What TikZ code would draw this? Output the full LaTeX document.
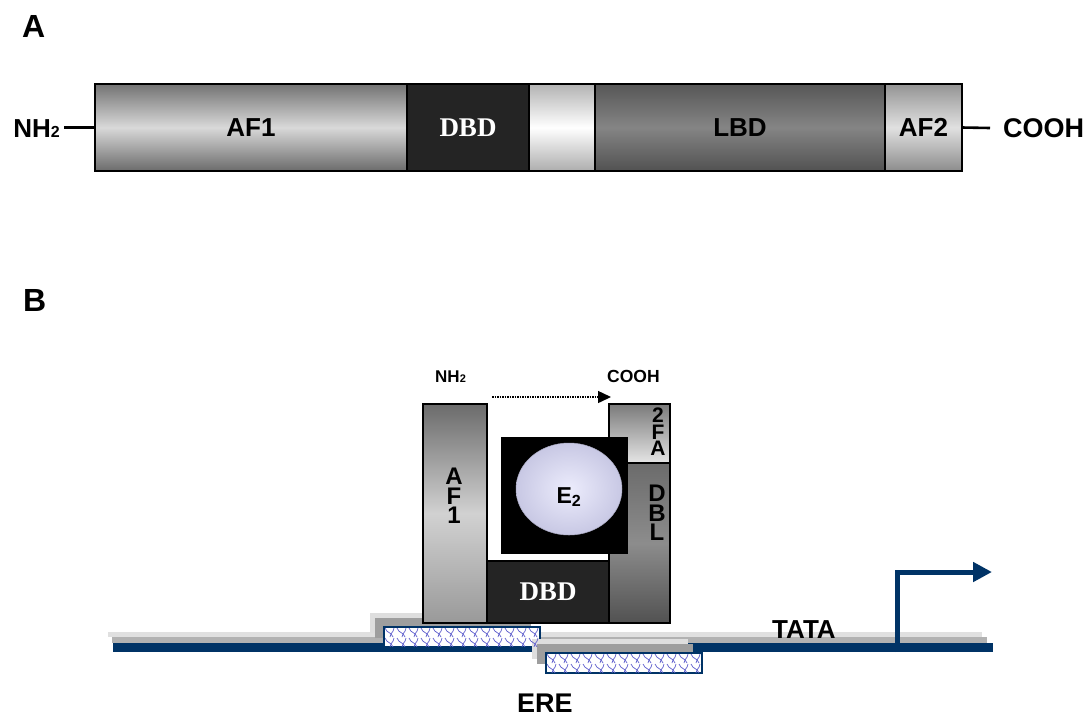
\documentclass[tikz,border=0pt]{standalone}
\usepackage{fontspec}
\setmainfont{Liberation Sans}
\newfontfamily\serifbf{Liberation Serif}
\usetikzlibrary{arrows.meta,positioning,calc,shadows,shapes.geometric}

\definecolor{dnablue}{RGB}{0,51,102}
\definecolor{erepen}{RGB}{95,95,205}
\definecolor{dbdfill}{RGB}{36,36,36}
\definecolor{ligand}{RGB}{236,236,252}
\definecolor{ligandrim}{RGB}{200,200,228}

\tikzset{
  dom/.style={draw=black, line width=1.4pt, anchor=north west, inner sep=0pt, outer sep=0pt},
  domlabel/.style={font=\bfseries\fontsize{26}{26}\selectfont},
  dbdlabel/.style={text=white, font=\serifbf\bfseries\fontsize{27}{27}\selectfont},
  stacked/.style={align=center, inner sep=0pt, font=\bfseries\fontsize{24}{19.5}\selectfont},
  bigtext/.style={inner sep=0pt, font=\bfseries\fontsize{#1}{#1}\selectfont},
  erebox/.style={draw=dnablue, line width=1.8pt, fill=white, anchor=north west,
    minimum width=156pt, minimum height=20pt, inner sep=0pt, outer sep=0pt,
    general shadow={fill=black!13, shadow xshift=-14pt, shadow yshift=14pt},
    general shadow={fill=black!38, shadow xshift=-9pt, shadow yshift=9pt}},
  weave/.style={erepen, line width=0.7pt}
}

\begin{document}
\begin{tikzpicture}[x=1pt,y=-1pt]
  \useasboundingbox (0,0) rectangle (1092,716);

  \node[bigtext=32, anchor=base west] (secA) at (22,37.7) {A};
  \node[bigtext=32, anchor=base west] (secB) at (23,311.7) {B};

  % receptor domains
  \node[dom, domlabel, minimum width=312pt, minimum height=87pt,
    top color=black!55, bottom color=black!58, middle color=black!15] (afoneA) at (95,84) {AF1};
  \node[dom, dbdlabel, minimum width=122pt, minimum height=87pt, fill=dbdfill] (dbdA) at (afoneA.north east) {DBD};
  \node[dom, minimum width=66pt, minimum height=87pt,
    top color=black!30, bottom color=black!32, middle color=white] (hingeA) at (dbdA.north east) {};
  \node[dom, domlabel, minimum width=290pt, minimum height=87pt,
    top color=black!66, bottom color=black!68, middle color=black!48] (lbdA) at (hingeA.north east) {LBD};
  \node[dom, domlabel, minimum width=77pt, minimum height=87pt,
    top color=black!42, bottom color=black!45, middle color=black!12] (aftwoA) at (lbdA.north east) {AF2};

  \node[bigtext=26, anchor=base east] (nhA) at (60,137) {NH{\fontsize{16}{16}\selectfont 2}};
  \node[bigtext=27, anchor=west] (coohA) at (1003,128) {COOH};
  \draw[line width=2.6pt] (afoneA.west) -- ([xshift=4pt]nhA.east |- afoneA.west);
  \draw[line width=2.6pt] (aftwoA.east) -- ([xshift=-13pt]coohA.west);

  % DNA
  \fill[black!12] (108,632) rectangle (982,637);
  \fill[black!30] (112,637) rectangle (987,643);
  \fill[dnablue] (113,643) rectangle (993,652);

  \node[erebox] (ereone) at (384,627) {};
  \node[erebox] (eretwo) at (546,653) {};
  \foreach \b in {ereone,eretwo}{
    \begin{scope}
      \clip ([shift={(1,1)}]\b.north west) rectangle ([shift={(-1,-1)}]\b.south east);
      \foreach \i in {0,...,13}
        \foreach \r in {0,1}{
          \draw[weave] ([shift={(\i*12+1,\r*10+1)}]\b.north west) sin ++(4,4.5) cos ++(4,4.5);
          \draw[weave] ([shift={(\i*12+10,\r*10+1)}]\b.north west) sin ++(-2,4.5) cos ++(-2,4.5);
        }
    \end{scope}
  }

  \coordinate (tss) at (897.5,652);
  \coordinate (tssend) at (992,572);
  \draw[dnablue, line width=5pt, -{Triangle[length=19pt,width=19pt]}] (tss) |- (tssend);

  \node[bigtext=26, anchor=base west] (tata) at (772,638) {TATA};
  \node[bigtext=27, anchor=base west] (ere) at (517,712) {ERE};

  % bound receptor
  \node[dom, minimum width=64pt, minimum height=219pt,
    top color=black!58, bottom color=black!40, middle color=black!18] (afoneB) at (423,404) {};
  \node[dom, dbdlabel, minimum width=122pt, minimum height=62pt, fill=dbdfill] (dbdB) at (487,561) {DBD};
  \node[dom, minimum width=61pt, minimum height=59pt,
    top color=black!52, bottom color=black!10] (aftwoB) at (609,404) {};
  \node[dom, minimum width=61pt, minimum height=160pt,
    top color=black!58, bottom color=black!68, middle color=black!45] (lbdB) at (609,463) {};

  \node[anchor=north west, fill=black, minimum width=127pt, minimum height=117pt, inner sep=0pt] (pocket) at (501,437) {};
  \node[ellipse, draw=ligandrim!85!black, line width=0.5pt, minimum width=106pt, minimum height=92pt,
    inner color=ligand, outer color=ligandrim] (lig) at (569,489) {};
  \node[bigtext=23, anchor=base] (e2) at (569,503) {E\textsubscript{2}};

  \node[stacked, anchor=north] (afoneBl) at (454,468) {A\\F\\1};
  \node[stacked, anchor=north] (lbdBl) at (657,485) {D\\B\\L};
  \node[stacked, anchor=north, font=\bfseries\fontsize{21}{16.5}\selectfont] (aftwoBl) at (658,408) {2\\F\\A};

  \node[bigtext=17, anchor=base west] (nhB) at (435,382) {NH{\fontsize{11}{11}\selectfont 2}};
  \node[bigtext=17.5, anchor=base west] (coohB) at (607,382) {COOH};
  \coordinate (dirstart) at (492,397);
  \coordinate (dirend) at (611,397);
  \draw[line width=1.5pt, densely dotted, -{Triangle[length=13pt,width=12pt]}] (dirstart) -- (dirend);
\end{tikzpicture}
\end{document}
